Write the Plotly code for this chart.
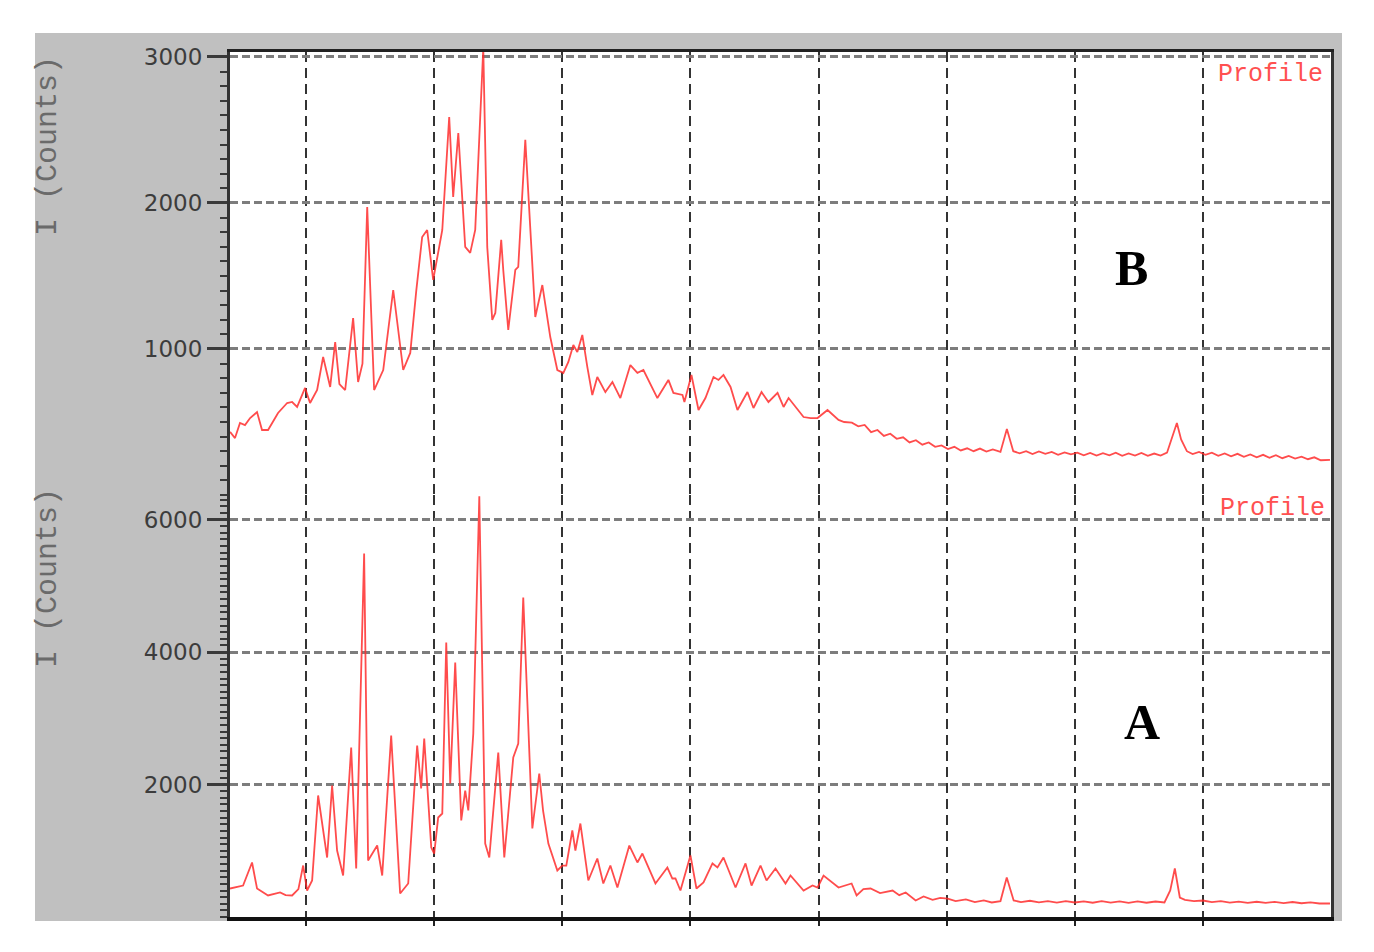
import plotly.graph_objects as go

# ---------------- data (2-theta in degrees, intensity in counts) ----------------
b_theta = [4.06, 4.45, 4.84, 5.23, 5.63, 6.17, 6.56, 7.03, 7.81, 8.52, 8.91, 9.3, 9.92, 10.31,
           10.86, 11.33, 11.88, 12.27, 12.6, 13.05, 13.67, 14.06, 14.4, 14.77, 15.1, 15.31,
           16.02, 16.8, 17.58, 18.13, 18.6, 19.06, 19.45, 19.92, 20.63, 21.17, 21.48, 21.88,
           22.42, 22.81, 23.2, 23.83, 24.14, 24.53, 24.77, 25.23, 25.39, 25.78, 26.33, 26.56,
           27.11, 27.66, 27.89, 28.44, 28.91, 29.06, 29.61, 30.08, 30.47, 30.86, 31.17, 31.56,
           31.95, 32.34, 32.73, 33.36, 33.91, 34.53, 35.31, 35.86, 36.33, 36.72, 37.42, 38.28,
           38.67, 39.38, 39.53, 40.08, 40.63, 41.17, 41.8, 42.19, 42.58, 43.13, 43.67, 44.45,
           44.92, 45.55, 46.09, 46.8, 47.27, 47.66, 48.36, 48.83, 49.38, 49.92, 50.7, 51.56,
           52.0, 52.6, 53.1, 53.6, 54.1, 54.6, 55.1, 55.6, 56.1, 56.6, 57.1, 57.6, 58.1, 58.6,
           59.1, 59.6, 60.1, 60.6, 61.1, 61.6, 62.1, 62.6, 63.1, 63.6, 64.2, 64.7, 65.2, 65.7,
           66.2, 66.7, 67.2, 67.7, 68.2, 68.7, 69.2, 69.7, 70.2, 70.7, 71.2, 71.7, 72.2, 72.7,
           73.2, 73.7, 74.2, 74.7, 75.2, 75.7, 76.2, 76.7, 77.2, 77.6, 77.97, 78.3, 78.75,
           79.2, 79.7, 80.2, 80.7, 81.2, 81.7, 82.2, 82.7, 83.2, 83.7, 84.2, 84.7, 85.2, 85.7,
           86.2, 86.7, 87.2, 87.7, 88.2, 88.7, 89.2, 89.92]
b_counts = [432, 390, 493, 479, 527, 568, 445, 445, 562, 630, 637, 603, 733, 630,
            719, 945, 740, 1048, 760, 719, 1212, 774, 900, 1973, 1200, 719,
            856, 1404, 856, 973, 1400, 1767, 1815, 1473, 1815, 2589, 2041, 2479,
            1699, 1658, 1815, 3060, 1699, 1199, 1247, 1747, 1541, 1130, 1541, 1562,
            2432, 1562, 1219, 1438, 1151, 1082, 856, 836, 911, 1027, 979, 1096,
            877, 685, 808, 705, 774, 664, 890, 836, 856, 788, 664, 788,
            699, 685, 637, 822, 582, 664, 808, 788, 822, 740, 582, 705,
            596, 705, 637, 699, 603, 664, 582, 534, 527, 527, 582, 514,
            500, 495, 470, 480, 430, 445, 405, 420, 385, 395, 360, 375, 345, 360,
            330, 340, 315, 330, 305, 320, 300, 318, 298, 312, 295, 452, 300, 285,
            300, 280, 298, 282, 295, 275, 292, 278, 290, 272, 288, 270, 286, 272,
            290, 268, 285, 270, 288, 268, 284, 270, 290, 400, 493, 380, 300,
            280, 295, 275, 290, 268, 285, 265, 282, 262, 278, 258, 275, 255, 272,
            252, 268, 250, 262, 245, 258, 238, 240]

a_theta = [4.06, 5.08, 5.78, 6.17, 7.03, 7.5, 7.97, 8.4, 8.91, 9.4, 9.77, 10.08, 10.47,
           10.94, 11.64, 12.03, 12.42, 12.89, 13.52, 13.91, 14.53, 14.84, 15.55, 15.94,
           16.64, 17.34, 17.97, 18.67, 18.98, 19.22, 19.77, 20.0, 20.31, 20.63, 20.94,
           21.25, 21.64, 22.11, 22.42, 22.66, 23.05, 23.52, 23.98, 24.3, 25.0, 25.47,
           26.17, 26.56, 26.95, 27.66, 28.2, 28.5, 28.91, 29.61, 30.0, 30.31, 30.78, 31.02,
           31.41, 32.03, 32.73, 33.2, 33.75, 34.3, 35.23, 35.86, 36.25, 37.27, 38.2, 38.59,
           38.83, 39.22, 40.0, 40.47, 41.02, 41.72, 42.11, 42.58, 43.52, 44.3, 44.77, 45.47,
           45.94, 46.64, 47.42, 47.81, 48.83, 49.53, 49.92, 50.39, 51.56, 52.58, 52.97,
           53.5, 54.06, 54.8, 55.78, 56.3, 56.8, 57.58, 58.2, 58.9, 59.5, 60.08, 60.7,
           61.5, 62.2, 62.9, 63.52, 64.2, 64.69, 65.23, 65.8, 66.5, 67.2, 67.9, 68.6,
           69.3, 70.0, 70.7, 71.4, 72.1, 72.8, 73.5, 74.2, 74.9, 75.6, 76.3, 77.0, 77.45,
           77.81, 78.2, 78.6, 79.3, 80.0, 80.7, 81.4, 82.1, 82.8, 83.5, 84.2, 84.9, 85.6,
           86.3, 87.0, 87.7, 88.4, 89.1, 89.92]
a_counts = [430, 475, 823, 430, 325, 350, 370, 330, 325, 420, 777, 400, 551,
            1834, 898, 1985, 1004, 626, 2558, 732, 5487, 853, 1079, 626,
            2740, 355, 506, 2589, 1940, 2694, 1049, 958, 1502, 1562, 4143,
            2015, 3842, 1457, 1909, 1608, 2770, 6350, 1109, 898, 2483, 898,
            2408, 2619, 4822, 1336, 2166, 1600, 1109, 702, 777, 777, 1306, 1004,
            1411, 551, 883, 506, 777, 445, 1079, 823, 958, 506, 747, 581,
            581, 400, 928, 430, 521, 808, 747, 898, 445, 808, 475, 777,
            551, 732, 506, 626, 400, 475, 445, 626, 445, 506, 325,
            420, 430, 360, 400, 330, 370, 249, 310, 260, 290, 279, 240,
            265, 225, 250, 219, 240, 596, 249, 225, 245, 220, 240, 218,
            238, 219, 236, 215, 238, 216, 235, 214, 236, 215, 234, 219, 400,
            732, 294, 260, 240, 249, 225, 240, 218, 232, 214, 230, 212, 228,
            210, 226, 208, 222, 204, 204]

grid_theta = [10, 20, 30, 40, 50, 60, 70, 80]
b_ticks = [1000, 2000, 3000]
a_ticks = [2000, 4000, 6000]

# ---------------- layout geometry (pixels) ----------------
W, H = 1374, 952
px = lambda v: v / W
py = lambda v: 1 - v / H
left, right = 230, 1331
top_b, seam, bottom_a = 52, 495, 917

line_style = dict(color="rgba(255,45,45,0.85)", width=1.8)

fig = go.Figure()
fig.add_trace(go.Scatter(x=b_theta, y=b_counts, mode="lines", line=line_style,
                         xaxis="x2", yaxis="y", showlegend=False, hoverinfo="skip"))
fig.add_trace(go.Scatter(x=a_theta, y=a_counts, mode="lines", line=line_style,
                         xaxis="x", yaxis="y2", showlegend=False, hoverinfo="skip"))

tickfont = dict(family="DejaVu Sans", size=23, color="#3c3c3c")
hgrid = dict(showgrid=True, gridcolor="#7d7d7d", gridwidth=3, griddash="8px,4px")

common_y = dict(
    ticks="outside", ticklen=20, tickwidth=3, tickcolor="#3a3a3a",
    showline=True, linecolor="#333333", linewidth=3, mirror=True,
    zeroline=False, tickfont=tickfont, fixedrange=True, automargin=False,
    minor=dict(dtick=100, ticks="outside", ticklen=7, tickwidth=2,
               tickcolor="#3a3a3a", showgrid=False),
    **hgrid,
)

ann_font_title = dict(family="Liberation Mono", size=30, color="#6a6a6a")
ann_font_prof = dict(family="Liberation Mono", size=25, color="#ff5050")
ann_font_letter = dict(family="Liberation Serif", size=50, color="black")

fig.update_layout(
    width=W, height=H,
    autosize=False,
    margin=dict(l=0, r=0, t=0, b=0, pad=0, autoexpand=False),
    paper_bgcolor="white",
    plot_bgcolor="white",
    xaxis=dict(domain=[px(left), px(right)], range=[4.06, 90.0], anchor="y2",
               tickvals=grid_theta, showticklabels=False,
               ticks="outside", ticklen=5, tickwidth=2, tickcolor="#222",
               showline=True, linecolor="#111", linewidth=4,
               showgrid=True, gridcolor="#333333", gridwidth=2, griddash="10px,6px",
               zeroline=False, fixedrange=True, automargin=False),
    xaxis2=dict(domain=[px(left), px(right)], range=[4.06, 90.0], anchor="y",
                matches="x", side="top",
                tickvals=grid_theta, showticklabels=False, ticks="",
                showline=True, linecolor="#222", linewidth=3,
                showgrid=True, gridcolor="#333333", gridwidth=2, griddash="10px,6px",
                zeroline=False, fixedrange=True, automargin=False),
    yaxis=dict(domain=[py(seam), py(top_b)], range=[0, 3034], anchor="x2",
               tickvals=b_ticks, **common_y),
    yaxis2=dict(domain=[py(bottom_a), py(seam)], range=[0, 6370], anchor="x",
                tickvals=a_ticks, **common_y),
    shapes=[
        dict(type="rect", xref="paper", yref="paper", layer="below",
             x0=px(35), x1=px(1342), y0=py(921), y1=py(33),
             fillcolor="#c0c0c0", line=dict(width=0)),
        dict(type="rect", xref="paper", yref="paper", layer="below",
             x0=px(left), x1=px(right), y0=py(bottom_a), y1=py(top_b),
             fillcolor="white", line=dict(width=0)),
    ],
    annotations=[
        dict(text="I (Counts)", xref="paper", yref="paper", x=px(48), y=py(146),
             xanchor="center", yanchor="middle", textangle=-90, showarrow=False,
             font=ann_font_title),
        dict(text="I (Counts)", xref="paper", yref="paper", x=px(48), y=py(578),
             xanchor="center", yanchor="middle", textangle=-90, showarrow=False,
             font=ann_font_title),
        dict(text="Profile", xref="paper", yref="paper", x=px(1270), y=py(75),
             xanchor="center", yanchor="middle", showarrow=False, font=ann_font_prof),
        dict(text="Profile", xref="paper", yref="paper", x=px(1272), y=py(508),
             xanchor="center", yanchor="middle", showarrow=False, font=ann_font_prof),
        dict(text="<b>B</b>", xref="paper", yref="paper", x=px(1131), y=py(268),
             xanchor="center", yanchor="middle", showarrow=False, font=ann_font_letter),
        dict(text="<b>A</b>", xref="paper", yref="paper", x=px(1142), y=py(722),
             xanchor="center", yanchor="middle", showarrow=False, font=ann_font_letter),
    ],
)

fig.write_html("out.html",
               config={"displayModeBar": False},
               post_script="document.body.style.margin='0';document.body.style.overflow='hidden';")
